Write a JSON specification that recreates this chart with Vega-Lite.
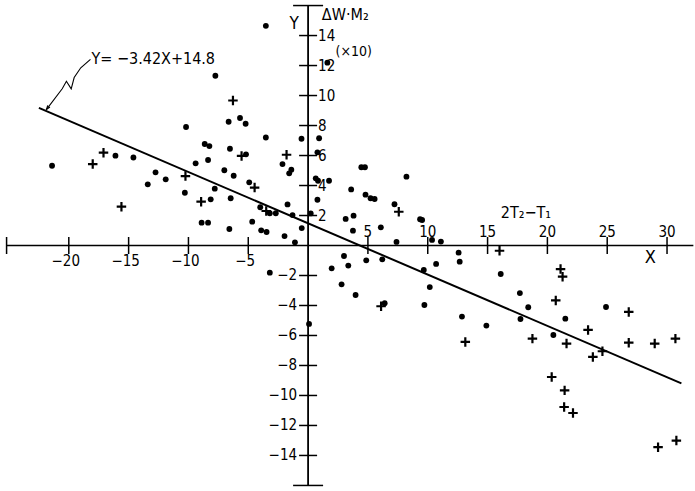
{
  "$schema": "https://vega.github.io/schema/vega-lite/v6.json",
  "width": 695,
  "height": 491,
  "autosize": {"type": "fit", "contains": "padding"},
  "padding": 0,
  "background": "white",
  "config": {
    "view": {"stroke": null},
    "text": {"font": "DejaVu Sans Condensed, DejaVu Sans, sans-serif", "color": "black"}
  },
  "data": {"values": [{"one": 1}]},
  "datasets": {
    "points": [
      {"x": -21.4, "y": 5.32, "sym": "dot"},
      {"x": -16.1, "y": 5.99, "sym": "dot"},
      {"x": -14.6, "y": 5.87, "sym": "dot"},
      {"x": -13.4, "y": 4.08, "sym": "dot"},
      {"x": -12.75, "y": 4.88, "sym": "dot"},
      {"x": -11.9, "y": 4.41, "sym": "dot"},
      {"x": -10.3, "y": 3.52, "sym": "dot"},
      {"x": -10.2, "y": 7.9, "sym": "dot"},
      {"x": -9.4, "y": 5.48, "sym": "dot"},
      {"x": -8.36, "y": 5.7, "sym": "dot"},
      {"x": -7.8, "y": 3.79, "sym": "dot"},
      {"x": -8.14, "y": 3.08, "sym": "dot"},
      {"x": -8.9, "y": 1.52, "sym": "dot"},
      {"x": -8.36, "y": 1.52, "sym": "dot"},
      {"x": -7.0, "y": 5.02, "sym": "dot"},
      {"x": -6.22, "y": 4.65, "sym": "dot"},
      {"x": -6.47, "y": 3.15, "sym": "dot"},
      {"x": -6.58, "y": 1.1, "sym": "dot"},
      {"x": -7.75, "y": 11.32, "sym": "dot"},
      {"x": -6.64, "y": 8.25, "sym": "dot"},
      {"x": -5.69, "y": 8.5, "sym": "dot"},
      {"x": -5.22, "y": 8.12, "sym": "dot"},
      {"x": -3.53, "y": 7.2, "sym": "dot"},
      {"x": -0.55, "y": 7.12, "sym": "dot"},
      {"x": -8.64, "y": 6.77, "sym": "dot"},
      {"x": -8.25, "y": 6.63, "sym": "dot"},
      {"x": -6.53, "y": 6.45, "sym": "dot"},
      {"x": -5.19, "y": 6.08, "sym": "dot"},
      {"x": -2.14, "y": 5.43, "sym": "dot"},
      {"x": -1.4, "y": 5.05, "sym": "dot"},
      {"x": -1.58, "y": 4.81, "sym": "dot"},
      {"x": -4.92, "y": 4.21, "sym": "dot"},
      {"x": -4.0, "y": 2.55, "sym": "dot"},
      {"x": -3.2, "y": 2.15, "sym": "dot"},
      {"x": -2.7, "y": 2.15, "sym": "dot"},
      {"x": -1.72, "y": 2.74, "sym": "dot"},
      {"x": -1.3, "y": 2.03, "sym": "dot"},
      {"x": -0.53, "y": 1.16, "sym": "dot"},
      {"x": -4.67, "y": 1.59, "sym": "dot"},
      {"x": -3.92, "y": 1.01, "sym": "dot"},
      {"x": -3.47, "y": 0.9, "sym": "dot"},
      {"x": -1.97, "y": 0.63, "sym": "dot"},
      {"x": -1.1, "y": 0.21, "sym": "dot"},
      {"x": -3.2, "y": -1.81, "sym": "dot"},
      {"x": 0.08, "y": -5.23, "sym": "dot"},
      {"x": 0.64, "y": 4.48, "sym": "dot"},
      {"x": 0.83, "y": 4.32, "sym": "dot"},
      {"x": 1.75, "y": 4.32, "sym": "dot"},
      {"x": 0.78, "y": 3.05, "sym": "dot"},
      {"x": 0.22, "y": 2.14, "sym": "dot"},
      {"x": 0.92, "y": 7.15, "sym": "dot"},
      {"x": 0.78, "y": 6.21, "sym": "dot"},
      {"x": -3.53, "y": 14.65, "sym": "dot"},
      {"x": 1.61, "y": 12.19, "sym": "dot"},
      {"x": 4.45, "y": 5.22, "sym": "dot"},
      {"x": 4.75, "y": 5.22, "sym": "dot"},
      {"x": 8.22, "y": 4.59, "sym": "dot"},
      {"x": 3.6, "y": 3.74, "sym": "dot"},
      {"x": 4.8, "y": 3.39, "sym": "dot"},
      {"x": 5.22, "y": 3.15, "sym": "dot"},
      {"x": 5.56, "y": 3.1, "sym": "dot"},
      {"x": 7.22, "y": 2.75, "sym": "dot"},
      {"x": 9.36, "y": 1.75, "sym": "dot"},
      {"x": 9.53, "y": 1.7, "sym": "dot"},
      {"x": 3.14, "y": 1.77, "sym": "dot"},
      {"x": 3.8, "y": 1.99, "sym": "dot"},
      {"x": 6.08, "y": 1.21, "sym": "dot"},
      {"x": 3.75, "y": 0.99, "sym": "dot"},
      {"x": 7.39, "y": 0.24, "sym": "dot"},
      {"x": 10.36, "y": 0.37, "sym": "dot"},
      {"x": 11.1, "y": 0.26, "sym": "dot"},
      {"x": 3.0, "y": -0.7, "sym": "dot"},
      {"x": 3.36, "y": -1.34, "sym": "dot"},
      {"x": 1.97, "y": -1.52, "sym": "dot"},
      {"x": 4.86, "y": -0.99, "sym": "dot"},
      {"x": 6.2, "y": -0.92, "sym": "dot"},
      {"x": 2.8, "y": -2.59, "sym": "dot"},
      {"x": 3.97, "y": -3.3, "sym": "dot"},
      {"x": 6.4, "y": -3.85, "sym": "dot"},
      {"x": 9.72, "y": -3.97, "sym": "dot"},
      {"x": 10.17, "y": -2.77, "sym": "dot"},
      {"x": 9.67, "y": -1.63, "sym": "dot"},
      {"x": 10.7, "y": -1.23, "sym": "dot"},
      {"x": 12.58, "y": -0.48, "sym": "dot"},
      {"x": 12.67, "y": -1.08, "sym": "dot"},
      {"x": 12.86, "y": -4.74, "sym": "dot"},
      {"x": 16.1, "y": -1.9, "sym": "dot"},
      {"x": 17.7, "y": -3.17, "sym": "dot"},
      {"x": 18.4, "y": -4.12, "sym": "dot"},
      {"x": 24.9, "y": -4.1, "sym": "dot"},
      {"x": 14.9, "y": -5.34, "sym": "dot"},
      {"x": 17.75, "y": -4.9, "sym": "dot"},
      {"x": 21.5, "y": -4.88, "sym": "dot"},
      {"x": 20.5, "y": -5.97, "sym": "dot"},
      {"x": -18.0, "y": 5.43, "sym": "plus"},
      {"x": -17.1, "y": 6.19, "sym": "plus"},
      {"x": -15.6, "y": 2.59, "sym": "plus"},
      {"x": -10.25, "y": 4.63, "sym": "plus"},
      {"x": -8.94, "y": 2.92, "sym": "plus"},
      {"x": -6.28, "y": 9.67, "sym": "plus"},
      {"x": -5.56, "y": 5.97, "sym": "plus"},
      {"x": -1.8, "y": 6.05, "sym": "plus"},
      {"x": -4.47, "y": 3.86, "sym": "plus"},
      {"x": -3.5, "y": 2.3, "sym": "plus"},
      {"x": 7.58, "y": 2.25, "sym": "plus"},
      {"x": 6.1, "y": -4.05, "sym": "plus"},
      {"x": 16.0, "y": -0.35, "sym": "plus"},
      {"x": 21.1, "y": -1.57, "sym": "plus"},
      {"x": 21.27, "y": -2.08, "sym": "plus"},
      {"x": 20.7, "y": -3.66, "sym": "plus"},
      {"x": 26.8, "y": -4.43, "sym": "plus"},
      {"x": 13.14, "y": -6.43, "sym": "plus"},
      {"x": 18.75, "y": -6.21, "sym": "plus"},
      {"x": 21.6, "y": -6.54, "sym": "plus"},
      {"x": 23.4, "y": -5.63, "sym": "plus"},
      {"x": 23.8, "y": -7.43, "sym": "plus"},
      {"x": 24.6, "y": -7.05, "sym": "plus"},
      {"x": 26.8, "y": -6.48, "sym": "plus"},
      {"x": 28.97, "y": -6.54, "sym": "plus"},
      {"x": 30.7, "y": -6.21, "sym": "plus"},
      {"x": 20.36, "y": -8.77, "sym": "plus"},
      {"x": 21.44, "y": -9.66, "sym": "plus"},
      {"x": 21.4, "y": -10.77, "sym": "plus"},
      {"x": 22.14, "y": -11.17, "sym": "plus"},
      {"x": 29.25, "y": -13.45, "sym": "plus"},
      {"x": 30.78, "y": -13.01, "sym": "plus"}
    ],
    "xticks": [
      {"x": -25.2, "label": ""},
      {"x": -20, "label": "−20"},
      {"x": -15, "label": "−15"},
      {"x": -10, "label": "−10"},
      {"x": -5, "label": "−5"},
      {"x": 5, "label": "5"},
      {"x": 10, "label": "10"},
      {"x": 15, "label": "15"},
      {"x": 20, "label": "20"},
      {"x": 25, "label": "25"},
      {"x": 30, "label": "30"}
    ],
    "yticks": [
      {"y": -14, "label": "−14"},
      {"y": -12, "label": "−12"},
      {"y": -10, "label": "−10"},
      {"y": -8, "label": "−8"},
      {"y": -6, "label": "−6"},
      {"y": -4, "label": "−4"},
      {"y": -2, "label": "−2"},
      {"y": 2, "label": "2"},
      {"y": 4, "label": "4"},
      {"y": 6, "label": "6"},
      {"y": 8, "label": "8"},
      {"y": 10, "label": "10"},
      {"y": 12, "label": "12"},
      {"y": 14, "label": "14"}
    ],
    "ycaps": [{"y": -16}, {"y": 16}],
    "fit": [
      {"x": -22.5, "y": 9.175},
      {"x": 31.2, "y": -9.19}
    ],
    "leader": [
      {"o": 1, "x": -18.19, "y": 12.41},
      {"o": 2, "x": -19.0, "y": 11.85},
      {"o": 3, "x": -19.55, "y": 11.2},
      {"o": 4, "x": -19.8, "y": 10.45},
      {"o": 5, "x": -20.2, "y": 10.95},
      {"o": 6, "x": -20.55, "y": 10.45},
      {"o": 7, "x": -21.86, "y": 9.08}
    ]
  },
  "layer": [
    {
      "mark": {"type": "rule", "color": "black", "strokeWidth": 1.6},
      "encoding": {
        "x": {"datum": -25.2, "type": "quantitative", "scale": {"domain": [-25.75, 32.17], "nice": false, "zero": false}, "axis": null},
        "x2": {"datum": 32.2},
        "y": {"datum": 0, "type": "quantitative", "scale": {"domain": [-16.37, 16.37], "nice": false, "zero": false}, "axis": null}
      }
    },
    {
      "mark": {"type": "rule", "color": "black", "strokeWidth": 1.8},
      "encoding": {
        "x": {"datum": 0, "type": "quantitative", "axis": null},
        "y": {"datum": -16, "type": "quantitative", "axis": null},
        "y2": {"datum": 16}
      }
    },
    {
      "data": {"name": "xticks"},
      "mark": {"type": "tick", "orient": "vertical", "size": 17, "thickness": 1.5, "color": "black", "opacity": 1},
      "encoding": {
        "x": {"field": "x", "type": "quantitative", "axis": null},
        "y": {"datum": 0, "type": "quantitative", "axis": null}
      }
    },
    {
      "data": {"name": "yticks"},
      "mark": {"type": "tick", "orient": "horizontal", "size": 18, "thickness": 1.5, "color": "black", "opacity": 1},
      "encoding": {
        "x": {"datum": 0, "type": "quantitative", "axis": null},
        "y": {"field": "y", "type": "quantitative", "axis": null}
      }
    },
    {
      "data": {"name": "ycaps"},
      "mark": {"type": "tick", "orient": "horizontal", "size": 30, "thickness": 1.5, "color": "black", "opacity": 1},
      "encoding": {
        "x": {"datum": 0, "type": "quantitative", "axis": null},
        "y": {"field": "y", "type": "quantitative", "axis": null}
      }
    },
    {
      "data": {"name": "xticks"},
      "transform": [{"filter": "datum.x < 0"}],
      "mark": {"type": "text", "fontSize": 15, "dy": 15, "dx": -3, "align": "center", "baseline": "middle"},
      "encoding": {
        "x": {"field": "x", "type": "quantitative", "axis": null},
        "y": {"datum": 0, "type": "quantitative", "axis": null},
        "text": {"field": "label"}
      }
    },
    {
      "data": {"name": "xticks"},
      "transform": [{"filter": "datum.x > 0"}],
      "mark": {"type": "text", "fontSize": 15, "dy": -14, "align": "center", "baseline": "middle"},
      "encoding": {
        "x": {"field": "x", "type": "quantitative", "axis": null},
        "y": {"datum": 0, "type": "quantitative", "axis": null},
        "text": {"field": "label"}
      }
    },
    {
      "data": {"name": "yticks"},
      "transform": [{"filter": "datum.y > 0"}],
      "mark": {"type": "text", "fontSize": 15, "dx": 10, "align": "left", "baseline": "middle"},
      "encoding": {
        "x": {"datum": 0, "type": "quantitative", "axis": null},
        "y": {"field": "y", "type": "quantitative", "axis": null},
        "text": {"field": "label"}
      }
    },
    {
      "data": {"name": "yticks"},
      "transform": [{"filter": "datum.y < 0"}],
      "mark": {"type": "text", "fontSize": 15, "dx": -11, "align": "right", "baseline": "middle"},
      "encoding": {
        "x": {"datum": 0, "type": "quantitative", "axis": null},
        "y": {"field": "y", "type": "quantitative", "axis": null},
        "text": {"field": "label"}
      }
    },
    {
      "data": {"name": "fit"},
      "mark": {"type": "line", "color": "black", "strokeWidth": 2},
      "encoding": {
        "x": {"field": "x", "type": "quantitative", "axis": null},
        "y": {"field": "y", "type": "quantitative", "axis": null}
      }
    },
    {
      "data": {"name": "leader"},
      "mark": {"type": "line", "color": "black", "strokeWidth": 1.1},
      "encoding": {
        "x": {"field": "x", "type": "quantitative", "axis": null},
        "y": {"field": "y", "type": "quantitative", "axis": null},
        "order": {"field": "o"}
      }
    },
    {
      "mark": {"type": "point", "shape": "M-0.5,1.4L0,0L0.5,1.4", "filled": false, "stroke": "black", "strokeWidth": 1.2, "size": 30, "angle": 217, "opacity": 1},
      "encoding": {
        "x": {"datum": -21.86, "type": "quantitative", "axis": null},
        "y": {"datum": 9.08, "type": "quantitative", "axis": null}
      }
    },
    {
      "data": {"name": "points"},
      "transform": [{"filter": "datum.sym == 'dot'"}],
      "mark": {"type": "point", "shape": "circle", "filled": true, "color": "black", "size": 34, "opacity": 1},
      "encoding": {
        "x": {"field": "x", "type": "quantitative", "axis": null},
        "y": {"field": "y", "type": "quantitative", "axis": null}
      }
    },
    {
      "data": {"name": "points"},
      "transform": [{"filter": "datum.sym == 'plus'"}],
      "mark": {"type": "point", "shape": "M-1,0H1M0,-1V1", "filled": false, "stroke": "black", "strokeWidth": 2.2, "size": 90, "opacity": 1},
      "encoding": {
        "x": {"field": "x", "type": "quantitative", "axis": null},
        "y": {"field": "y", "type": "quantitative", "axis": null}
      }
    },
    {
      "mark": {"type": "text", "fontSize": 16, "align": "left", "baseline": "middle"},
      "encoding": {
        "x": {"datum": -18.1, "type": "quantitative", "axis": null},
        "y": {"datum": 12.43, "type": "quantitative", "axis": null},
        "text": {"value": "Y= −3.42X+14.8"}
      }
    },
    {
      "mark": {"type": "text", "fontSize": 17, "align": "center", "baseline": "middle"},
      "encoding": {
        "x": {"datum": -1.17, "type": "quantitative", "axis": null},
        "y": {"datum": 14.75, "type": "quantitative", "axis": null},
        "text": {"value": "Y"}
      }
    },
    {
      "mark": {"type": "text", "fontSize": 16, "align": "left", "baseline": "middle"},
      "encoding": {
        "x": {"datum": 1.15, "type": "quantitative", "axis": null},
        "y": {"datum": 15.35, "type": "quantitative", "axis": null},
        "text": {"value": "ΔW·M₂"}
      }
    },
    {
      "mark": {"type": "text", "fontSize": 14, "align": "left", "baseline": "middle"},
      "encoding": {
        "x": {"datum": 2.3, "type": "quantitative", "axis": null},
        "y": {"datum": 12.87, "type": "quantitative", "axis": null},
        "text": {"value": "(×10)"}
      }
    },
    {
      "mark": {"type": "text", "fontSize": 16, "align": "left", "baseline": "middle"},
      "encoding": {
        "x": {"datum": 16.1, "type": "quantitative", "axis": null},
        "y": {"datum": 2.2, "type": "quantitative", "axis": null},
        "text": {"value": "2T₂−T₁"}
      }
    },
    {
      "mark": {"type": "text", "fontSize": 18, "align": "center", "baseline": "middle"},
      "encoding": {
        "x": {"datum": 28.6, "type": "quantitative", "axis": null},
        "y": {"datum": -0.83, "type": "quantitative", "axis": null},
        "text": {"value": "X"}
      }
    }
  ]
}
